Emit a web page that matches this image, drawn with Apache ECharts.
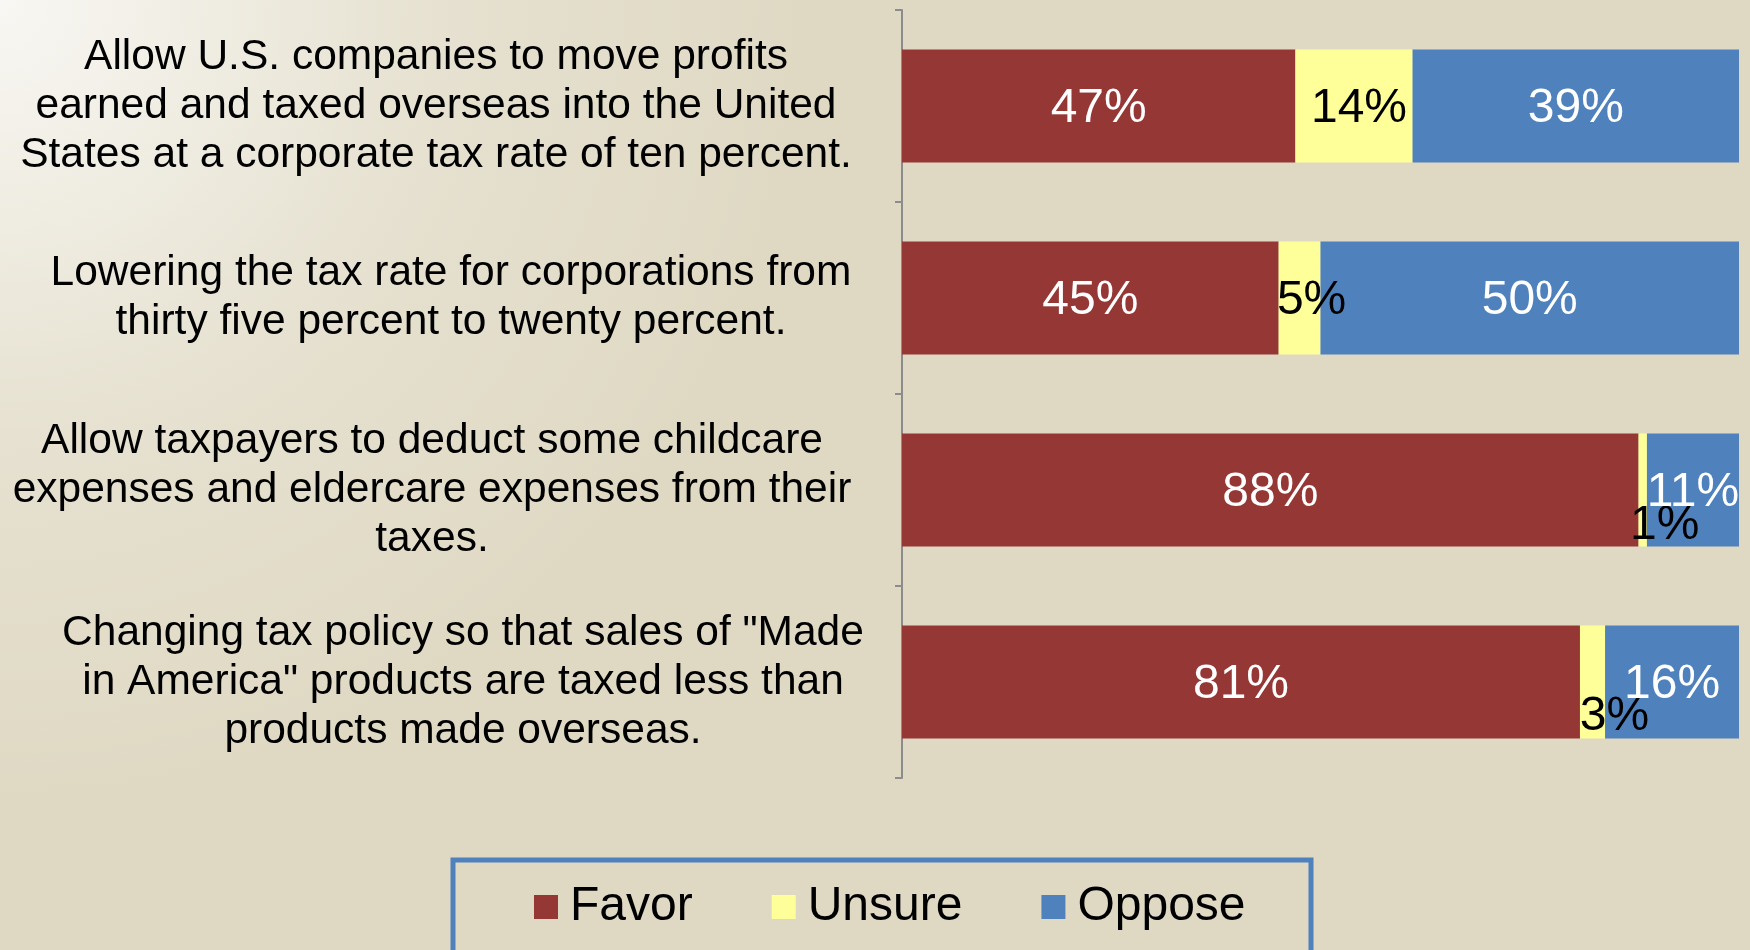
<!DOCTYPE html>
<html>
<head>
<meta charset="utf-8">
<script src="https://cdn.jsdelivr.net/npm/echarts@6/dist/echarts.min.js"></script>
<style>
  html, body { margin: 0; padding: 0; }
  #chartmain { width: 1750px; height: 950px; }
</style>
</head>
<body>
<div id="chartmain"></div>
<script>
// survey questions, top to bottom
var questions = [
  'Allow U.S. companies to move profits\nearned and taxed overseas into the United\nStates at a corporate tax rate of ten percent.',
  'Lowering the tax rate for corporations from\nthirty five percent to twenty percent.',
  'Allow taxpayers to deduct some childcare\nexpenses and eldercare expenses from their\ntaxes.',
  'Changing tax policy so that sales of "Made\nin America" products are taxed less than\nproducts made overseas.'
];
var favor  = [47, 45, 88, 81];
var unsure = [14, 5, 1, 3];
var oppose = [39, 50, 11, 16];

// label nudges (px) - labels moved around in the original to dodge overlap
var unsureShift = [[5, 3], [12, 3], [22, 36], [22, 35]];
var questionShift = [0, 15, -4, 27];

var chart = echarts.init(document.getElementById('chartmain'));

var fontFam = '"Liberation Sans", Arial, sans-serif';

var option = {
  backgroundColor: {
    type: 'radial', x: 0, y: 0, r: 800, global: true,
    colorStops: [
      { offset: 0, color: '#F8F7F3' },
      { offset: 0.55, color: '#E6E1D0' },
      { offset: 1, color: '#DFD9C4' }
    ]
  },
  textStyle: { fontFamily: fontFam },
  animation: false,
  grid: { left: 902, right: 11, top: 10, bottom: 172, outerBoundsMode: 'none', containLabel: false },
  legend: {
    data: ['Favor', 'Unsure', 'Oppose'],
    left: 534,
    top: 883,
    padding: 0,
    itemWidth: 24,
    itemHeight: 24,
    itemGap: 79,
    icon: 'rect',
    textStyle: { fontSize: 48, color: '#000', fontFamily: fontFam, padding: [0, 0, 0, 7] }
  },
  xAxis: { type: 'value', min: 0, max: 100, show: false },
  yAxis: {
    type: 'category',
    inverse: true,
    data: questions.map(function (q, i) {
      return { value: q, textStyle: { align: 'center', padding: [0, -questionShift[i] * 2, 0, 0] } };
    }),
    axisLine: { show: true, lineStyle: { color: '#8C8C8C', width: 2 } },
    axisTick: { show: true, inside: false, length: 7, alignWithLabel: false, lineStyle: { color: '#8C8C8C', width: 2 } },
    axisLabel: {
      align: 'center',
      margin: 466,
      fontSize: 42.5,
      lineHeight: 49,
      color: '#000',
      fontFamily: fontFam
    }
  },
  series: [
    {
      name: 'Favor', type: 'bar', stack: 'all', barWidth: 113,
      itemStyle: { color: '#953735' },
      label: { show: true, position: 'inside', offset: [0, 3], formatter: '{c}%', color: '#fff', fontSize: 48, fontFamily: fontFam },
      data: favor
    },
    {
      name: 'Unsure', type: 'bar', stack: 'all', barWidth: 113,
      itemStyle: { color: '#FFFF99' },
      data: unsure.map(function (v, i) {
        return {
          value: v,
          label: { show: true, position: 'inside', formatter: '{c}%', color: '#000', fontSize: 48, fontFamily: fontFam, offset: unsureShift[i] }
        };
      })
    },
    {
      name: 'Oppose', type: 'bar', stack: 'all', barWidth: 113,
      itemStyle: { color: '#4F81BD' },
      label: { show: true, position: 'inside', offset: [0, 3], formatter: '{c}%', color: '#fff', fontSize: 48, fontFamily: fontFam },
      data: oppose
    }
  ],
  graphic: [
    {
      type: 'rect',
      shape: { x: 453, y: 860, width: 858, height: 140 },
      style: { fill: 'none', stroke: '#4F81BD', lineWidth: 5 },
      silent: true
    }
  ]
};

chart.setOption(option);
</script>
</body>
</html>
